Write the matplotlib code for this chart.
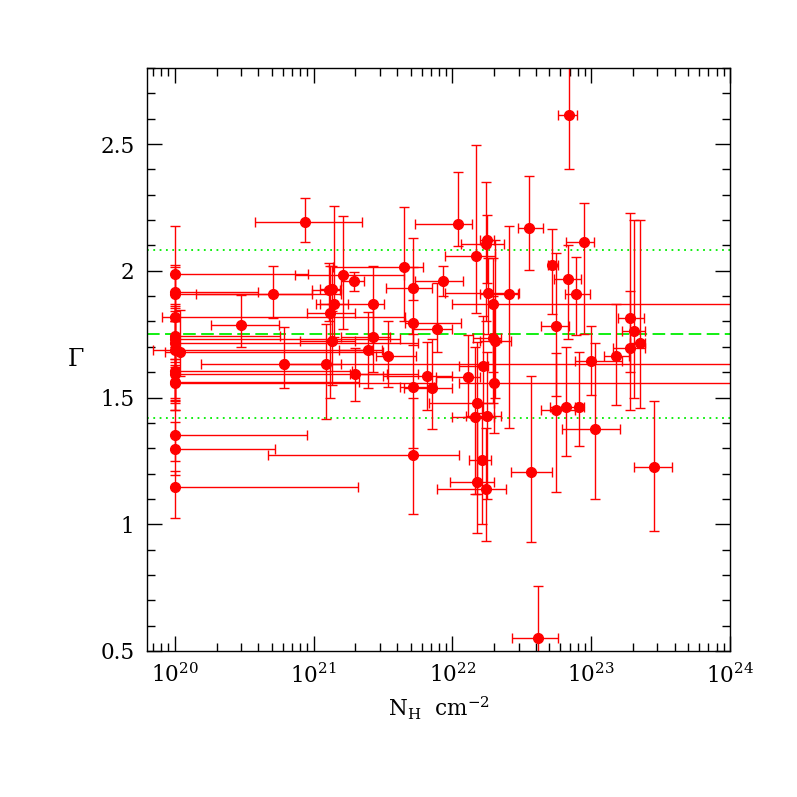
import numpy as np
import matplotlib
matplotlib.use("Agg")
import matplotlib.pyplot as plt
from matplotlib.ticker import FixedLocator, LogLocator, NullFormatter, FuncFormatter

# ---- data (log10 NH, photon index Gamma, error limits) ----
log_nh = [20.00, 20.00, 20.00, 20.00, 20.00, 20.00, 20.00, 20.00,
          20.00, 20.00, 20.00, 20.00, 20.00, 20.00, 20.00, 20.04,
          20.94, 20.71, 20.48, 20.79, 21.11, 21.13, 21.15, 21.12,
          21.13, 21.21, 21.29, 21.65, 21.43, 21.43, 21.39, 21.54,
          21.30, 21.72, 21.89, 21.72, 21.93, 22.04, 22.17, 22.24,
          22.25, 22.55, 22.95, 22.84, 22.72, 22.83, 22.89, 22.26,
          22.41, 22.29, 22.75, 23.28, 23.31, 23.35, 23.28, 23.18,
          23.00, 22.29, 22.31, 22.22, 22.11, 22.30, 21.82, 21.72,
          21.85, 22.18, 22.16, 22.25, 22.75, 22.82, 22.91, 23.03,
          21.72, 22.21, 22.18, 22.24, 22.57, 23.45, 22.62, 21.09]
log_nh_lo = [20.00, 20.00, 20.00, 19.91, 20.00, 20.00, 20.00, 19.84,
             20.00, 20.00, 20.00, 20.00, 20.00, 20.00, 20.00, 19.93,
             20.58, 20.15, 20.26, 20.19, 20.99, 21.05, 21.05, 20.95,
             20.90, 20.87, 21.20, 21.14, 21.02, 21.20, 21.18, 21.45,
             21.26, 21.66, 21.71, 21.52, 21.73, 21.73, 21.95, 22.06,
             22.20, 22.47, 22.82, 22.76, 22.69, 22.73, 22.81, 21.95,
             22.20, 22.00, 22.64, 23.19, 23.22, 23.28, 23.16, 23.09,
             22.88, 22.15, 22.20, 22.05, 21.88, 22.05, 21.50, 21.62,
             21.65, 21.83, 22.00, 22.10, 22.64, 22.70, 22.88, 22.79,
             20.67, 22.12, 21.98, 21.89, 22.42, 23.31, 22.43, 20.80]
log_nh_hi = [20.96, 20.60, 21.20, 21.66, 20.76, 21.62, 21.75, 21.42,
             21.28, 21.75, 21.33, 21.88, 20.95, 20.72, 21.32, 21.50,
             21.35, 20.99, 20.75, 21.20, 21.19, 21.20, 21.25, 21.30,
             21.30, 21.65, 21.36, 21.79, 21.51, 21.55, 21.49, 21.74,
             21.53, 22.06, 22.00, 21.85, 22.08, 22.14, 22.31, 22.37,
             22.30, 22.65, 23.02, 22.90, 22.76, 22.93, 22.99, 22.48,
             22.47, 24.50, 22.84, 23.38, 23.39, 23.39, 23.39, 23.27,
             23.22, 22.35, 22.42, 22.26, 22.20, 24.50, 22.00, 21.87,
             22.00, 22.30, 22.30, 22.35, 22.88, 22.90, 22.95, 23.21,
             22.05, 22.28, 22.30, 22.39, 22.72, 23.58, 22.76, 24.50]
gamma = [1.989, 1.915, 1.910, 1.816, 1.744, 1.730, 1.716, 1.686,
         1.603, 1.594, 1.563, 1.557, 1.353, 1.297, 1.148, 1.678,
         2.192, 1.909, 1.787, 1.633, 1.923, 1.928, 1.869, 1.834,
         1.724, 1.982, 1.958, 2.015, 1.869, 1.739, 1.689, 1.662,
         1.591, 1.794, 1.771, 1.932, 1.961, 2.185, 2.057, 2.106,
         2.123, 2.167, 2.113, 2.613, 2.022, 1.968, 1.909, 1.911,
         1.909, 1.868, 1.783, 1.814, 1.764, 1.717, 1.695, 1.662,
         1.645, 1.735, 1.721, 1.626, 1.579, 1.557, 1.583, 1.540,
         1.537, 1.480, 1.423, 1.428, 1.449, 1.461, 1.464, 1.376,
         1.274, 1.253, 1.168, 1.139, 1.208, 1.225, 0.553, 1.631]
gamma_lo = [1.800, 1.820, 1.800, 1.720, 1.640, 1.630, 1.620, 1.451,
            1.499, 1.488, 1.479, 1.451, 1.250, 1.194, 1.023, 1.583,
            2.115, 1.814, 1.700, 1.537, 1.800, 1.840, 1.740, 1.500,
            1.550, 1.770, 1.920, 1.800, 1.740, 1.600, 1.537, 1.540,
            1.487, 1.708, 1.680, 1.886, 1.900, 2.097, 1.834, 1.800,
            1.950, 2.005, 1.750, 2.400, 1.830, 1.730, 1.748, 1.750,
            1.379, 1.600, 1.504, 1.600, 1.500, 1.460, 1.450, 1.470,
            1.510, 1.480, 1.500, 1.420, 1.425, 1.360, 1.450, 1.300,
            1.375, 1.120, 1.120, 1.100, 1.126, 1.270, 1.310, 1.100,
            1.039, 1.000, 0.964, 0.934, 0.928, 0.974, 0.400, 1.416]
gamma_hi = [2.178, 2.024, 2.015, 1.870, 1.862, 1.855, 1.843, 1.800,
            1.700, 1.700, 1.650, 1.650, 1.490, 1.405, 1.211, 1.847,
            2.287, 2.020, 1.906, 1.777, 2.030, 2.020, 2.255, 2.020,
            1.870, 2.215, 1.995, 2.253, 2.020, 1.870, 1.836, 1.800,
            1.695, 2.130, 1.952, 2.016, 2.020, 2.389, 2.496, 2.350,
            2.220, 2.374, 2.268, 2.850, 2.166, 2.100, 2.056, 2.050,
            2.178, 2.050, 2.070, 2.226, 2.200, 2.200, 1.920, 1.870,
            1.783, 1.900, 2.120, 1.820, 1.748, 1.870, 1.720, 1.750,
            1.730, 1.720, 1.700, 1.680, 1.675, 1.700, 1.680, 1.715,
            1.500, 1.480, 1.440, 1.380, 1.583, 1.487, 0.757, 1.790]

mean_gamma = 1.75
spread = 0.33

x_ticks = [1e20, 1e21, 1e22, 1e23, 1e24]
y_ticks = [0.5, 1.0, 1.5, 2.0, 2.5]
y_tick_labels = ["0.5", "1", "1.5", "2", "2.5"]

# ---- style ----
plt.rcParams["font.family"] = ["DejaVu Serif"]
plt.rcParams["mathtext.fontset"] = "dejavuserif"

fig = plt.figure(figsize=(7.97, 7.97), dpi=100)
ax = fig.add_axes([0.1844, 0.1832, 0.7315, 0.7315])

nh = 10 ** np.array(log_nh)
nh_lo = 10 ** np.array(log_nh_lo)
nh_hi = 10 ** np.array(log_nh_hi)
g = np.array(gamma)
glo = np.array(gamma_lo)
ghi = np.array(gamma_hi)

ax.axhline(mean_gamma, color="#00ee00", lw=1.3, ls=(0, (7, 3)), zorder=1)
ax.axhline(mean_gamma + spread, color="#00ee00", lw=1.3, ls=(0, (1, 2.5)), zorder=1)
ax.axhline(mean_gamma - spread, color="#00ee00", lw=1.3, ls=(0, (1, 2.5)), zorder=1)

ax.errorbar(nh, g, xerr=[nh - nh_lo, nh_hi - nh], yerr=[g - glo, ghi - g],
            fmt="o", color="red", ecolor="red", ms=7.0, elinewidth=1.0,
            capsize=3.5, capthick=1.0, zorder=2)

ax.set_xscale("log")
ax.set_xlim(10 ** 19.8, 1e24)
ax.set_ylim(0.5, 2.8)

ax.xaxis.set_major_locator(FixedLocator(x_ticks))
ax.xaxis.set_minor_locator(LogLocator(base=10, subs=np.arange(2, 10)))
ax.xaxis.set_minor_formatter(NullFormatter())
ax.xaxis.set_major_formatter(FuncFormatter(lambda v, p: r"$10^{%d}$" % int(round(np.log10(v)))))

ax.yaxis.set_major_locator(FixedLocator(y_ticks))
ax.set_yticklabels(y_tick_labels)
ax.yaxis.set_minor_locator(FixedLocator(np.arange(0.5, 2.81, 0.1)))

ax.tick_params(which="both", direction="in", top=True, right=True, width=1.0,
               labelsize=15.5, pad=9)
ax.tick_params(which="major", length=11)
ax.tick_params(which="minor", length=5.5)
for s in ax.spines.values():
    s.set_linewidth(1.0)

ax.set_xlabel(r"N$_\mathrm{H}$  cm$^{-2}$", fontsize=15.5, labelpad=5)
ax.set_ylabel(r"$\Gamma$", fontsize=17, rotation=0, labelpad=18, va="center")

fig.savefig("out.png", dpi=100)
